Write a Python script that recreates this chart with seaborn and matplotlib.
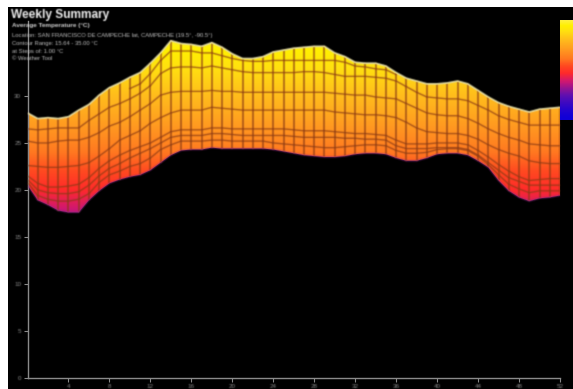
import numpy as np
import matplotlib
matplotlib.use('Agg')
import matplotlib.pyplot as plt
from matplotlib.colors import LinearSegmentedColormap
import seaborn as sns

nan = np.nan

# Weekly temperature bands (deg C), week 0 to 52
weeks = list(range(53))
t_max = [28.2, 27.6, 27.7, 27.6, 27.8, 28.5, 29.1, 30.1, 30.9, 31.4, 32.0, 32.5, 33.5, 34.6, 35.9, 35.6, 35.5, 35.3,
         35.7, 35.2, 34.5, 34.0, 34.0, 34.2, 34.7, 34.9, 35.1, 35.2, 35.3, 35.3, 34.6, 34.2, 33.6, 33.5, 33.5, 33.2,
         32.5, 31.9, 31.6, 31.3, 31.3, 31.4, 31.6, 31.3, 30.6, 29.9, 29.3, 28.9, 28.6, 28.3, 28.6, 28.7, 28.8]
t_band0 = [nan, nan, nan, nan, nan, nan, nan, nan, nan, nan, 30.8, 31.3, 32.4, 33.8, 34.8, 34.8, 34.8, 34.6,
           34.6, 34.3, 34.0, 33.8, 33.7, 33.7, 33.8, 33.8, 33.8, 33.8, 33.8, 33.8, 33.8, 33.6, 33.2, 33.1, 32.9, 32.8,
           32.3, nan, nan, nan, nan, nan, nan, nan, nan, nan, nan, nan, nan, nan, nan, nan, nan]
t_band1 = [26.5, 26.4, 26.5, 26.6, 26.6, 26.6, 27.4, 28.1, 28.8, 29.2, 29.7, 30.3, 31.1, 32.4, 33.0, 33.1, 33.1, 33.0,
           33.2, 33.0, 32.8, 32.6, 32.5, 32.5, 32.5, 32.5, 32.5, 32.6, 32.6, 32.5, 32.3, 32.1, 32.1, 32.1, 32.0, 31.9,
           31.6, 31.0, 30.4, 29.9, 29.8, 29.7, 29.7, 29.5, 29.0, 28.5, 27.9, 27.5, 27.2, 26.9, 26.9, 26.9, 26.9]
t_band2 = [25.2, 25.0, 25.0, 25.2, 25.3, 25.3, 25.6, 26.1, 26.8, 27.2, 27.8, 28.5, 29.2, 30.1, 30.4, 30.5, 30.5, 30.5,
           30.6, 30.5, 30.5, 30.4, 30.4, 30.4, 30.4, 30.4, 30.4, 30.4, 30.4, 30.4, 30.3, 30.2, 30.1, 30.1, 29.9, 29.8,
           29.7, 29.2, 28.7, 28.2, 28.0, 27.9, 27.9, 27.6, 27.1, 26.5, 26.0, 25.6, 25.3, 24.9, 24.8, 24.7, 24.7]
t_band3 = [22.6, 22.5, 22.4, 22.4, 22.5, 22.6, 22.9, 23.6, 24.4, 25.3, 25.8, 26.3, 27.1, 27.7, 28.2, 28.5, 28.5, 28.5,
           28.8, 28.7, 28.6, 28.5, 28.5, 28.5, 28.5, 28.5, 28.5, 28.5, 28.5, 28.5, 28.3, 28.2, 28.1, 28.0, 28.0, 27.9,
           27.7, 27.2, 26.6, 26.2, 26.1, 26.0, 26.0, 25.8, 25.4, 24.8, 24.3, 23.9, 23.6, 23.1, 22.9, 22.8, 22.8]
t_band4 = [21.5, 20.7, 20.3, 20.3, 20.4, 20.6, 21.3, 22.3, 23.1, 23.7, 24.2, 24.6, 25.0, 25.6, 26.2, 26.4, 26.4, 26.4,
           26.6, 26.6, 26.5, 26.5, 26.5, 26.5, 26.5, 26.5, 26.4, 26.3, 26.3, 26.3, 26.2, 26.1, 26.0, 26.0, 25.9, 25.8,
           25.3, 24.9, 24.9, 24.9, 25.0, 25.0, 25.0, 24.8, 24.2, 23.5, 22.7, 22.0, 21.4, 21.0, 21.1, 21.2, 21.2]
t_band5 = [21.1, 20.0, 19.7, 19.6, 19.6, 19.8, 20.5, 21.5, 22.3, 22.8, 23.4, 23.9, 24.4, 25.0, 25.6, 25.8, 25.8, 25.8,
           26.0, 26.0, 25.9, 25.8, 25.8, 25.8, 25.8, 25.8, 25.7, 25.6, 25.6, 25.6, 25.6, 25.5, 25.5, 25.4, 25.4, 25.3,
           24.7, 24.4, 24.4, 24.4, 24.5, 24.5, 24.5, 24.3, 23.7, 22.9, 22.1, 21.3, 20.9, 20.5, 20.5, 20.5, 20.5]
t_band6 = [20.8, 19.4, 19.0, 18.8, 18.8, 19.0, 19.6, 20.8, 21.6, 22.0, 22.5, 22.8, 23.4, 24.3, 24.8, 25.2, 25.2, 25.2,
           25.3, 25.3, 25.2, 25.2, 25.2, 25.2, 25.0, 24.9, 24.8, 24.7, 24.6, 24.5, 24.5, 24.6, 24.7, 24.8, 24.8, 24.7,
           24.2, 23.9, 23.9, 24.0, 24.3, 24.4, 24.4, 24.2, 23.6, 22.7, 21.6, 20.6, 20.1, 19.7, 19.9, 19.9, 19.9]
t_min = [20.5, 18.9, 18.4, 17.8, 17.6, 17.6, 18.9, 19.9, 20.7, 21.1, 21.4, 21.6, 22.1, 22.9, 23.7, 24.2, 24.3, 24.3,
         24.5, 24.4, 24.4, 24.4, 24.4, 24.4, 24.3, 24.1, 23.9, 23.7, 23.6, 23.5, 23.5, 23.6, 23.8, 23.9, 23.9, 23.8,
         23.4, 23.1, 23.1, 23.4, 23.8, 23.9, 23.9, 23.7, 23.1, 22.4, 21.0, 19.9, 19.2, 18.8, 19.1, 19.2, 19.4]
bands = [t_band0, t_band1, t_band2, t_band3, t_band4, t_band5, t_band6]

x_ticks = list(range(4, 53, 4))
y_ticks = [0, 5, 10, 15, 20, 25, 30]
info_lines = ['Location: SAN FRANCISCO DE CAMPECHE lat, CAMPECHE (19.5\u00b0, -90.5\u00b0)',
              'Contour Range: 15.64 - 35.00 \u00b0C',
              'at Steps of: 1.00 \u00b0C',
              '\u00a9 Weather Tool']

sns.set_style('dark')
plt.rcParams['font.family'] = ['Liberation Sans', 'DejaVu Sans']

W, H = 573, 389
fig = plt.figure(figsize=(W / 100, H / 100), dpi=100, facecolor='white')

def px_axes(x0, y0, x1, y1, **kw):
    return fig.add_axes([x0 / W, 1 - y1 / H, (x1 - x0) / W, (y1 - y0) / H], **kw)

# the reference is a soft, low quality image, so smear lines and text a little
def soften(img, dpi):
    pad = 3
    out = np.pad(img, ((pad, pad), (pad, pad), (0, 0)))
    alpha = out[..., 3:]
    premult = np.dstack([out[..., :3] * alpha, alpha])
    kernel = np.array([0.2, 0.6, 0.2])
    for axis in (0, 1):
        premult = np.apply_along_axis(lambda v: np.convolve(v, kernel, mode='same'), axis, premult)
    a = premult[..., 3:]
    rgb = premult[..., :3] / np.maximum(a, 1e-4)
    return np.dstack([np.clip(rgb, 0, 1), a]), -pad, -pad

# black panel behind everything
bg = px_axes(8, 7, 573, 389, facecolor='black')
bg.set_xticks([])
bg.set_yticks([])
for s in bg.spines.values():
    s.set_visible(False)

temp_cmap = LinearSegmentedColormap.from_list('temps', [
    (0.00, '#1000d8'), (0.12, '#6010b0'), (0.24, '#d01870'), (0.32, '#ff2a2a'), (0.40, '#ff4a20'),
    (0.48, '#ff7820'), (0.60, '#ff9c20'), (0.72, '#ffbc1c'), (0.84, '#ffe010'), (0.92, '#fff000'),
    (1.00, '#fff040')])

ax = px_axes(27.5, 21, 560, 377.5, facecolor='none')
grad = ax.imshow(np.linspace(1, 0, 256).reshape(-1, 1), extent=[0, 52, 12, 37], aspect='auto',
                 cmap=temp_cmap, vmin=0, vmax=1, zorder=1)
shape = ax.fill_between(weeks, t_min, t_max, color='none', lw=0)
grad.set_clip_path(shape.get_paths()[0], transform=ax.transData)

# week lines
week_lines = ax.vlines(weeks, t_min, t_max, color='#8a3a14', alpha=0.8, lw=1.1, zorder=2)
week_lines.set_agg_filter(soften)

# contour bands
for band in bands:
    sns.lineplot(x=weeks, y=band, ax=ax, color='#8a3a14', alpha=0.75, lw=1.0, estimator=None, errorbar=None, zorder=3)
sns.lineplot(x=weeks, y=t_max, ax=ax, color='#e0d8a0', lw=1.2, estimator=None, errorbar=None, zorder=4)
sns.lineplot(x=weeks, y=t_min, ax=ax, color='#8a2880', alpha=0.7, lw=1.0, estimator=None, errorbar=None, zorder=4)
for line in ax.get_lines():
    line.set_agg_filter(soften)

ax.set_xlim(0, 52)
ax.set_ylim(0, 38)
ax.set_xticks(x_ticks)
ax.set_yticks(y_ticks)
ax.grid(False)
ax.tick_params(colors='#8a8a8a', labelsize=4.5, length=3, width=0.8, pad=1.5, bottom=True, left=True)
ax.spines['top'].set_visible(False)
ax.spines['right'].set_visible(False)
for side in ['left', 'bottom']:
    ax.spines[side].set_color('#8a8a8a')
    ax.spines[side].set_linewidth(1.0)
for lab in ax.get_xticklabels() + ax.get_yticklabels():
    lab.set_agg_filter(soften)

# legend strip at the right edge
cax = px_axes(560, 20, 573, 120)
cax.imshow(np.linspace(1, 0, 256).reshape(-1, 1) ** 1.5, aspect='auto', cmap=temp_cmap, vmin=0, vmax=1)
cax.set_axis_off()

texts = [fig.text(11 / W, 1 - 15 / H, 'Weekly Summary', color='#f0f0f0', fontsize=8.6, fontweight='bold', va='center'),
         fig.text(12 / W, 1 - 25.5 / H, 'Average Temperature (\u00b0C)', color='#d0d0d0', fontsize=4.6,
                  fontweight='bold', va='center')]
for text, y in zip(info_lines, [35, 44, 51.5, 58]):
    texts.append(fig.text(12 / W, 1 - y / H, text, color='#c0c0c0', fontsize=4.25, va='center'))
for t in texts:
    t.set_agg_filter(soften)

fig.savefig('out.png', dpi=100, facecolor='white')
